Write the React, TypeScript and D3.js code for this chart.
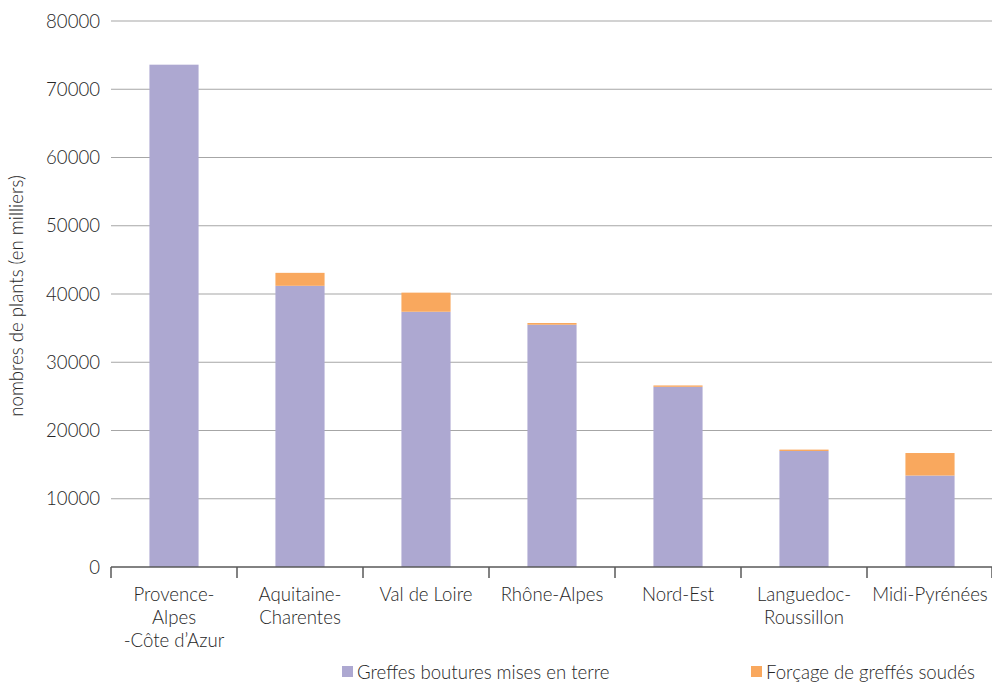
import React from "react";
import * as d3 from "d3";

const categories = [
  ["Provence-", "Alpes", "-Côte d’Azur"],
  ["Aquitaine-", "Charentes"],
  ["Val de Loire"],
  ["Rhône-Alpes"],
  ["Nord-Est"],
  ["Languedoc-", "Roussillon"],
  ["Midi-Pyrénées"],
];
const greffes = [73600, 41200, 37400, 35500, 26400, 17000, 13400];
const forcage = [0, 1900, 2800, 250, 200, 200, 3300];
const yTicks = [0, 10000, 20000, 30000, 40000, 50000, 60000, 70000, 80000];
const seriesNames = ["Greffes boutures mises en terre", "Forçage de greffés soudés"];
const colors = ["#ADA8D1", "#F9A85E"];

export default function App() {
  const W = 992, H = 684;
  const left = 111, right = 993, top = 21, bottom = 567;
  const idx = categories.map((_, i) => String(i));
  const x = d3.scaleBand().domain(idx).range([left, right]).paddingInner(0.61).paddingOuter(0.305);
  const band = d3.scaleBand().domain(idx).range([left, right]);
  const y = d3.scaleLinear().domain([0, 80000]).range([bottom, top]);
  const font = "Lato, 'Open Sans', sans-serif";
  const fs = 18.6;
  const tc = "#262626";
  const stack = d3.stack<number>().keys(["0", "1"]).value((i, k) => (k === "0" ? greffes[i] : forcage[i]));
  const series = stack(greffes.map((_, i) => i));
  return (
    <svg width={W} height={H} style={{ position: "absolute", left: 0, top: 0, background: "#fff" }} fontFamily={font}>
      {yTicks.map((t) => (
        <g key={t}>
          {t > 0 && <line x1={left} x2={right} y1={y(t)} y2={y(t)} stroke="#a6a6a6" strokeWidth={1.2} />}
          <text x={100} y={y(t)} dy="0.35em" textAnchor="end" fontSize={fs} fill={tc} fontWeight={300}>
            {t}
          </text>
        </g>
      ))}
      {series.map((s, si) =>
        s.map((d, i) =>
          d[1] - d[0] > 0 ? (
            <rect
              key={si + "-" + i}
              x={x(String(i))}
              width={x.bandwidth()}
              y={y(d[1])}
              height={y(d[0]) - y(d[1])}
              fill={colors[si]}
            />
          ) : null
        )
      )}
      <line x1={left} x2={right} y1={bottom} y2={bottom} stroke="#595959" strokeWidth={1.5} />
      {idx.concat(["7"]).map((k, i) => {
        const xx = i < 7 ? band(k)! : right - 1;
        return <line key={k} x1={xx} x2={xx} y1={bottom} y2={bottom + 11} stroke="#595959" strokeWidth={1.5} />;
      })}
      {categories.map((lines, i) => (
        <text key={i} textAnchor="middle" fontSize={fs} fill={tc} fontWeight={300}>
          {lines.map((l, j) => (
            <tspan key={j} x={band(String(i))! + band.bandwidth() / 2} y={601 + j * 23}>
              {l}
            </tspan>
          ))}
        </text>
      ))}
      <text
        transform={`translate(23,${(top + bottom) / 2 + 2}) rotate(-90)`}
        textAnchor="middle"
        fontSize={fs}
        fill={tc}
        fontWeight={300}
      >
        nombres de plants (en milliers)
      </text>
      {seriesNames.map((n, i) => {
        const lx = i === 0 ? 342 : 751;
        return (
          <g key={n}>
            <rect x={lx} y={666} width={11} height={11} fill={colors[i]} />
            <text x={lx + 15} y={672} dy="0.35em" fontSize={fs} fill={tc} fontWeight={300}>
              {n}
            </text>
          </g>
        );
      })}
    </svg>
  );
}
